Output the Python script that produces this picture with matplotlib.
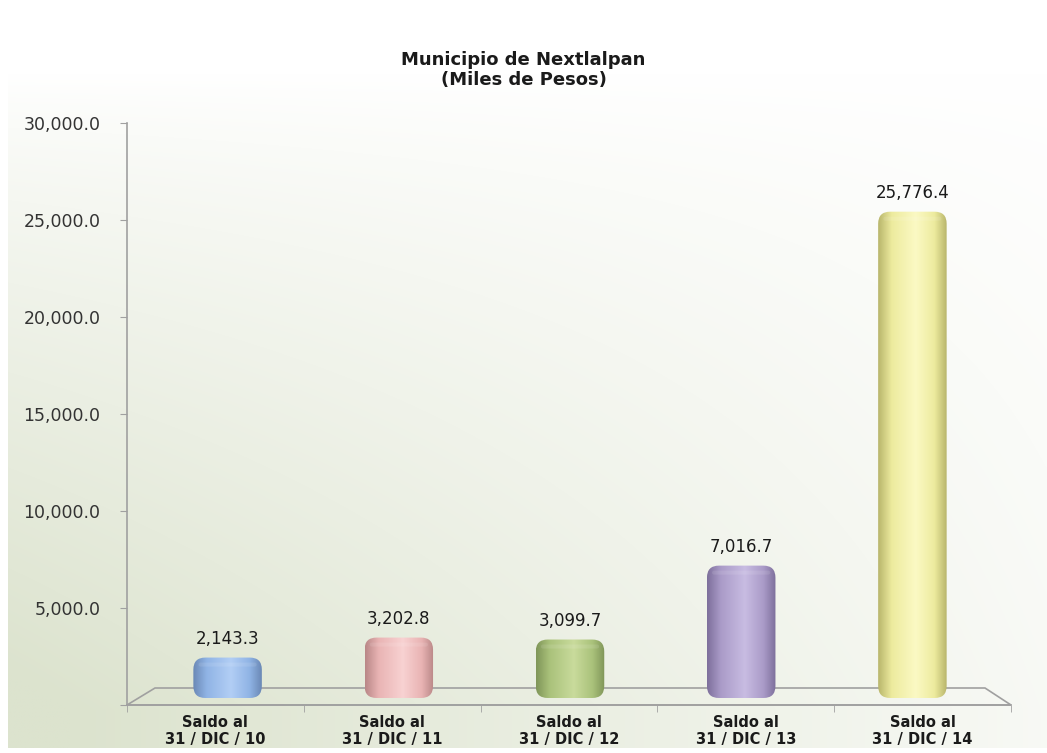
import numpy as np
import matplotlib
matplotlib.use("Agg")
import matplotlib.pyplot as plt
from matplotlib.patches import FancyBboxPatch, Polygon
from matplotlib.colors import LinearSegmentedColormap

plt.rcParams['font.family'] = ['DejaVu Sans']

# Data
categories = ["Saldo al\n31 / DIC / 10", "Saldo al\n31 / DIC / 11", "Saldo al\n31 / DIC / 12",
              "Saldo al\n31 / DIC / 13", "Saldo al\n31 / DIC / 14"]
values = [2143.3, 3202.8, 3099.7, 7016.7, 25776.4]
labels = ["2,143.3", "3,202.8", "3,099.7", "7,016.7", "25,776.4"]
yticks = [0, 5000, 10000, 15000, 20000, 25000, 30000]

# (dark edge, mid, highlight) per bar
bar_colors = [
    ("#6a88b5", "#90b4e5", "#b2cef5"),
    ("#b98787", "#e9b4b4", "#f8d2d2"),
    ("#7f9558", "#aac27b", "#c9db9c"),
    ("#7d6f9b", "#aa9bc8", "#c8bce2"),
    ("#b8b56b", "#edeb9e", "#fbf9c4"),
]

W, H = 1047, 753
fig = plt.figure(figsize=(W / 100, H / 100), dpi=100)
fig.patch.set_facecolor('white')

# background gradient panel (white margin left/bottom)
bg = fig.add_axes([8 / W, 5 / H, 1 - 8 / W, 1 - 5 / H], zorder=-10)
gx, gy = np.meshgrid(np.linspace(0, 1, 800), np.linspace(0, 1, 600))
t = np.clip((gy - 0.1) / 0.85, 0, 1) ** 0.8 * np.clip(1 - 0.8 * gx, 0, 1)
t = np.clip(t * 1.05, 0, 1)
c0 = np.array([255, 255, 255]) / 255
c1 = np.array([220, 227, 206]) / 255
img = c0[None, None, :] * (1 - t[..., None]) + c1[None, None, :] * t[..., None]
bg.imshow(img, aspect='auto', extent=[0, 1, 0, 1], origin='upper', interpolation='bilinear')
bg.axis('off')

# front axes (value axis + category labels)
ax = fig.add_axes([127 / W, 48 / H, 884 / W, 582 / H])
ax.patch.set_alpha(0)
ax.set_xlim(-0.5, 4.5)
ax.set_ylim(0, 30000)
for s in ['top', 'right', 'bottom']:
    ax.spines[s].set_visible(False)
ax.spines['left'].set_color('#a0a0a0')
ax.spines['left'].set_linewidth(1.2)
ax.set_yticks(yticks)
ax.set_yticklabels(["" if v == 0 else f"{v:,.1f}" for v in yticks])
ax.tick_params(axis='y', length=5, color='#a0a0a0', pad=14, labelsize=12.5, labelcolor='#333333')
ax.set_xticks(range(len(categories)))
ax.set_xticklabels(categories, fontweight='bold', fontsize=10.5, linespacing=1.15)
ax.set_xticks(np.arange(-0.5, 5, 1), minor=True)
ax.tick_params(axis='x', which='major', length=0, pad=7, labelcolor='#1a1a1a')
ax.tick_params(axis='x', which='minor', length=5, color='#a0a0a0')
ax.axhline(0, color='#a0a0a0', lw=1.2, clip_on=False)

# floor parallelogram
floor = Polygon([(0, 0), (28 / 884, 17 / 582), (1 - 26 / 884, 17 / 582), (1, 0)],
                closed=True, transform=ax.transAxes, fill=False,
                edgecolor='#a0a0a0', lw=1.2, clip_on=False)
ax.add_patch(floor)

# back axes where the cylinders sit
bax = fig.add_axes([142 / W, 55 / H, 856 / W, 566 / H])
bax.set_xlim(-0.5, 4.5)
bax.set_ylim(0, 30000)
bax.axis('off')
bax.patch.set_alpha(0)

# data units per pixel in x and y (for round corners)
px_x = 5 / 856
px_y = 30000 / 566
bw = 0.4
r_px = 12

for i, (v, lab, cols) in enumerate(zip(values, labels, bar_colors)):
    x0 = i - bw / 2
    patch = FancyBboxPatch((x0, 0), bw, v,
                           boxstyle=f"round,pad=0,rounding_size={r_px * px_x}",
                           mutation_aspect=px_y / px_x,
                           facecolor='none', edgecolor='none')
    bax.add_patch(patch)
    cmap = LinearSegmentedColormap.from_list(
        f"cyl{i}", [(0, cols[0]), (0.2, cols[1]), (0.55, cols[2]), (0.82, cols[1]), (1, cols[0])])
    grad = np.linspace(0, 1, 256)[None, :]
    im = bax.imshow(grad, cmap=cmap, aspect='auto', extent=[x0, x0 + bw, 0, v],
                    origin='lower', zorder=2)
    im.set_clip_path(patch)
    # faint highlight near the top cap
    cap = FancyBboxPatch((x0 + 0.03, v - 9 * px_y), bw - 0.06, 4 * px_y,
                         boxstyle=f"round,pad=0,rounding_size={2 * px_x}",
                         mutation_aspect=px_y / px_x,
                         facecolor='white', alpha=0.1, edgecolor='none', zorder=3)
    bax.add_patch(cap)
    bax.annotate(lab, (i, v), xytext=(0, 7), textcoords='offset points',
                 ha='center', va='bottom', fontsize=12, color='#1a1a1a')

fig.text(0.5, 1 - 70 / H, "Municipio de Nextlalpan\n(Miles de Pesos)", ha='center', va='center',
         fontsize=13, fontweight='bold', color='#1a1a1a', linespacing=1.15)

fig.savefig("out.png", dpi=100)
